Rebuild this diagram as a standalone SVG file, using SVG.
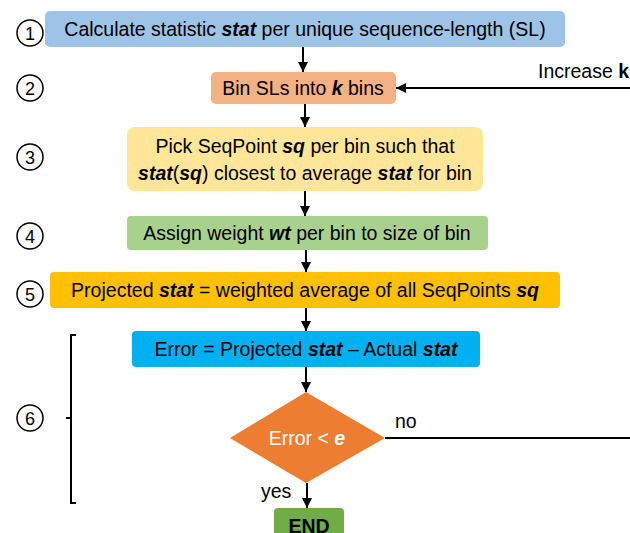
<svg xmlns="http://www.w3.org/2000/svg" width="630" height="533" viewBox="0 0 630 533">
<defs>
<marker id="ah" viewBox="0 0 10 10" refX="10" refY="5" markerWidth="5" markerHeight="5" orient="auto" markerUnits="strokeWidth">
<path d="M0,0 L10,5 L0,10 z" fill="#000"/>
</marker>
<style>
text{font-family:"Liberation Sans",Arial,sans-serif;font-size:19.5px;fill:#000}
.c{text-anchor:middle}
.bi{font-weight:bold;font-style:italic}
.num{fill:#fff;stroke:#000;stroke-width:1.5}
.ln{stroke:#000;stroke-width:2;fill:none}
</style>
</defs>
<rect width="630" height="533" fill="#fff"/>
<g id="labels">
<circle class="num" cx="30" cy="33" r="13"/><text class="c" x="30" y="40" style="font-size:18px">1</text>
<circle class="num" cx="30" cy="88" r="13"/><text class="c" x="30" y="95" style="font-size:18px">2</text>
<circle class="num" cx="30" cy="157" r="13"/><text class="c" x="30" y="164" style="font-size:18px">3</text>
<circle class="num" cx="30" cy="236" r="13"/><text class="c" x="30" y="243" style="font-size:18px">4</text>
<circle class="num" cx="30" cy="294" r="13"/><text class="c" x="30" y="301" style="font-size:18px">5</text>
<circle class="num" cx="30" cy="418" r="13"/><text class="c" x="30" y="425" style="font-size:18px">6</text>
<path class="ln" d="M76,335 H71 V503 H76 M71,418 H66" stroke-width="1.5"/>
</g>
<g id="n1"><rect x="45" y="11" width="520" height="36" rx="5" fill="#9DC3E6"/>
<text class="c" x="305" y="36">Calculate statistic <tspan class="bi">stat</tspan> per unique sequence-length (SL)</text></g>
<g id="n2"><rect x="211" y="72" width="185" height="32" rx="5" fill="#F4B183"/>
<text class="c" x="303" y="95">Bin SLs into <tspan class="bi">k</tspan> bins</text></g>
<g id="n3"><rect x="127" y="127" width="356" height="64" rx="8" fill="#FFE699"/>
<text class="c" x="305" y="153">Pick SeqPoint <tspan class="bi">sq</tspan> per bin such that</text>
<text class="c" x="305" y="180"><tspan class="bi">stat</tspan>(<tspan class="bi">sq</tspan>) closest to average <tspan class="bi">stat</tspan> for bin</text></g>
<g id="n4"><rect x="127" y="216" width="361" height="34" rx="4" fill="#A9D18E"/>
<text class="c" x="307" y="240">Assign weight <tspan class="bi">wt</tspan> per bin to size of bin</text></g>
<g id="n5"><rect x="50" y="272" width="510" height="36" rx="4" fill="#FFC000"/>
<text class="c" x="305" y="297">Projected <tspan class="bi">stat</tspan> = weighted average of all SeqPoints <tspan class="bi">sq</tspan></text></g>
<g id="n6"><rect x="132" y="331" width="348" height="36" rx="4" fill="#00B0F0"/>
<text class="c" x="306" y="356">Error = Projected <tspan class="bi">stat</tspan> – Actual <tspan class="bi">stat</tspan></text></g>
<g id="n7"><path d="M306,392 L385,438 L306,483 L230,438 z" fill="#ED7D31"/>
<text class="c" x="307" y="445" style="fill:#fff">Error &lt; <tspan class="bi" style="fill:#fff">e</tspan></text></g>
<g id="n8"><rect x="274" y="508" width="70" height="34" rx="4" fill="#70AD47"/>
<text class="c" x="309" y="533" font-weight="bold">END</text></g>
<g id="connectors">
<path class="ln" d="M303,47 V72" marker-end="url(#ah)"/>
<path class="ln" d="M630,88 H396" marker-end="url(#ah)"/>
<path class="ln" d="M305,104 V127" marker-end="url(#ah)"/>
<path class="ln" d="M305,191 V216" marker-end="url(#ah)"/>
<path class="ln" d="M306,250 V272" marker-end="url(#ah)"/>
<path class="ln" d="M306,308 V331" marker-end="url(#ah)"/>
<path class="ln" d="M306,367 V392" marker-end="url(#ah)"/>
<path class="ln" d="M307,483 V508" marker-end="url(#ah)"/>
<path class="ln" d="M385,438 H630"/>
<text x="538" y="78">Increase <tspan font-weight="bold">k</tspan></text>
<text x="395" y="428">no</text>
<text x="261" y="498">yes</text>
</g>
</svg>
